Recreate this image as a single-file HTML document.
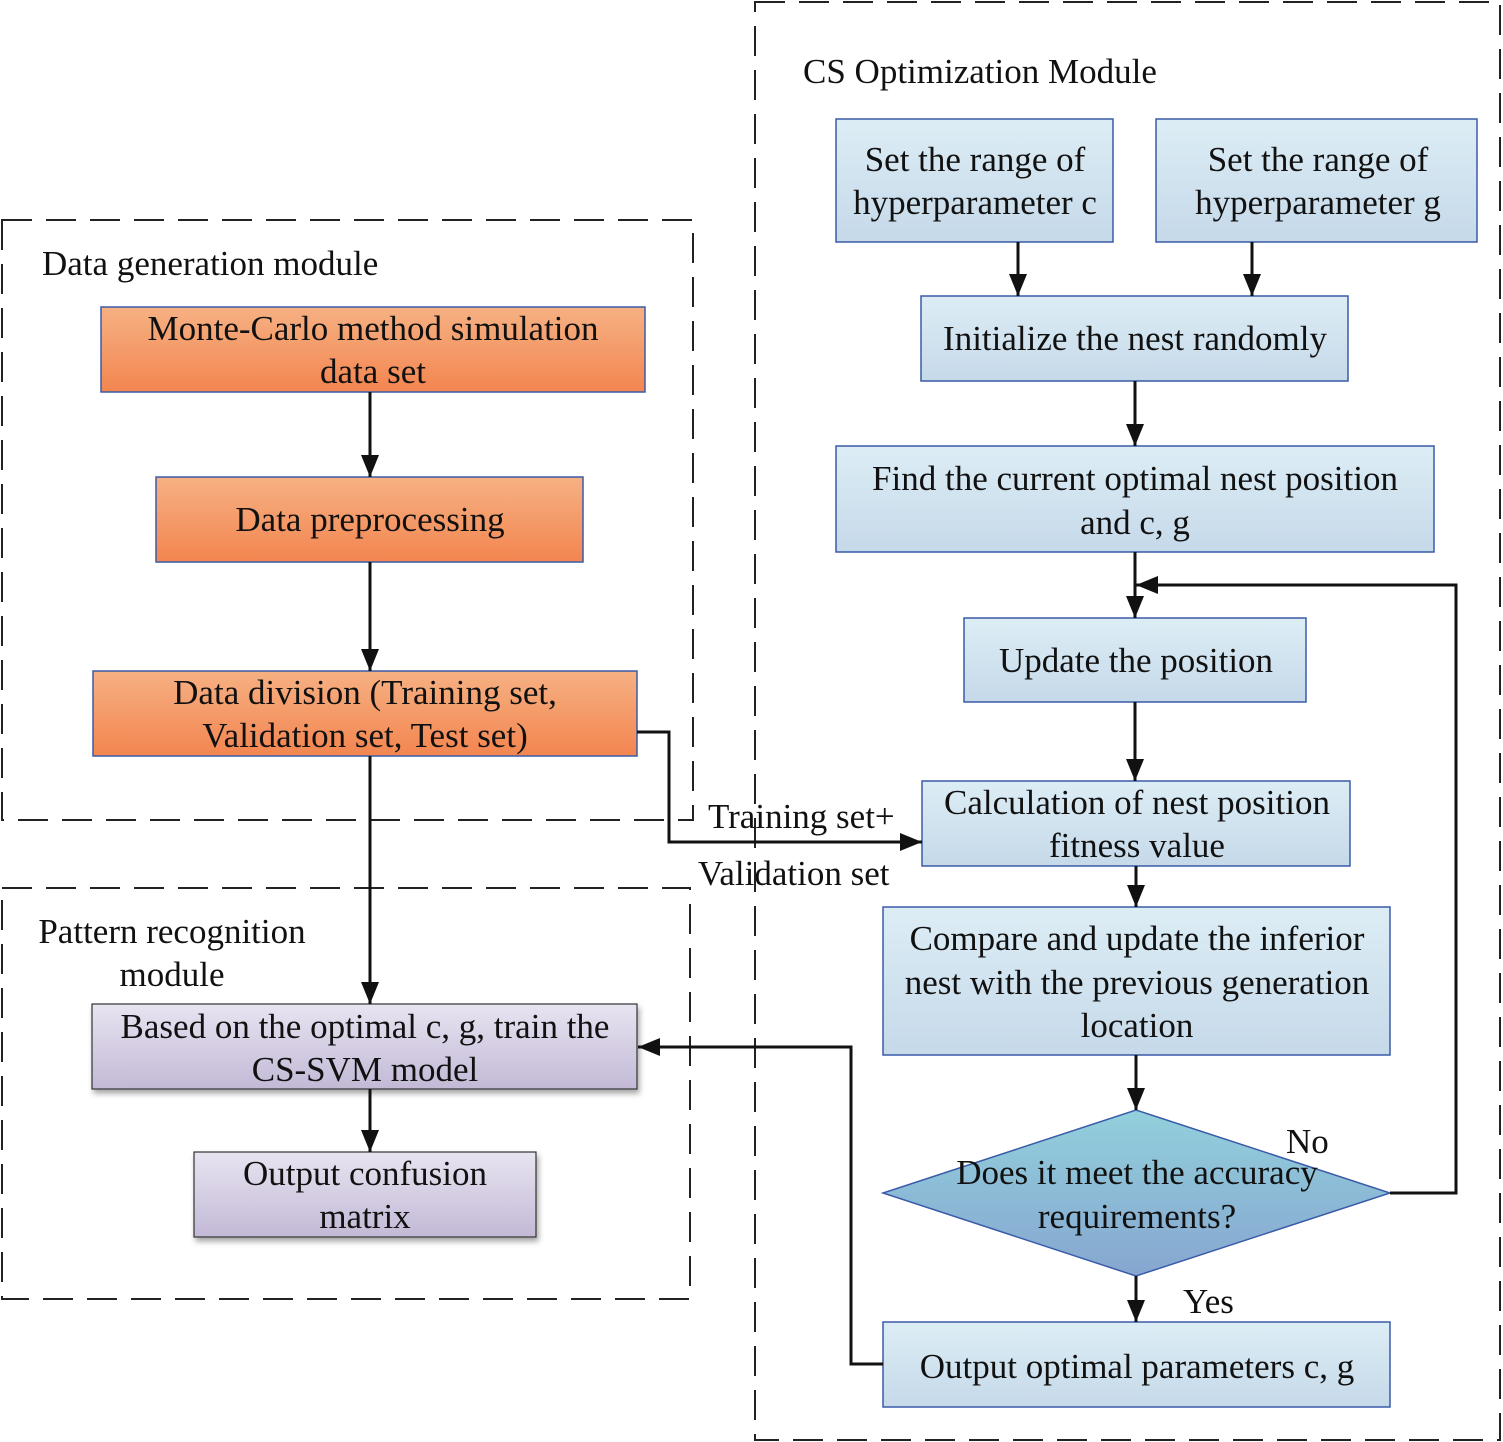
<!DOCTYPE html>
<html><head><meta charset="utf-8"><style>html,body{margin:0;padding:0;background:#fff}svg{display:block}</style></head><body>
<svg width="1503" height="1442" viewBox="0 0 1503 1442" xmlns="http://www.w3.org/2000/svg" font-family="Liberation Serif, serif" font-size="35" fill="#111">
<defs>
<linearGradient id="bl" x1="0" y1="0" x2="0" y2="1"><stop offset="0" stop-color="#dcedf5"/><stop offset="1" stop-color="#c6d9e9"/></linearGradient>
<linearGradient id="or" x1="0" y1="0" x2="0" y2="1"><stop offset="0" stop-color="#f6b183"/><stop offset="1" stop-color="#f38550"/></linearGradient>
<linearGradient id="pu" x1="0" y1="0" x2="0" y2="1"><stop offset="0" stop-color="#e8e4f1"/><stop offset="1" stop-color="#c3b9d6"/></linearGradient>
<linearGradient id="di" x1="0" y1="0" x2="0" y2="1"><stop offset="0" stop-color="#92d0dc"/><stop offset="1" stop-color="#86a6d0"/></linearGradient>
<marker id="ar" markerWidth="22" markerHeight="18" refX="22" refY="9" orient="auto" markerUnits="userSpaceOnUse" viewBox="0 0 22 18"><path d="M0,0 L22,9 L0,18 z" fill="#111"/></marker>
<filter id="sh" x="-5%" y="-10%" width="110%" height="130%"><feDropShadow dx="2" dy="4" stdDeviation="3" flood-color="#000" flood-opacity="0.35"/></filter>
</defs>
<g fill="none" stroke="#222" stroke-width="2" stroke-dasharray="30,14">
<rect x="755" y="2" width="745" height="1438"/>
<rect x="2" y="220" width="691" height="600"/>
<rect x="2" y="888" width="688" height="411"/>
</g>
<g stroke="#3a5ba8" stroke-width="1.5">
<rect x="836" y="119" width="277" height="123" fill="url(#bl)"/>
<rect x="1156" y="119" width="321" height="123" fill="url(#bl)"/>
<rect x="921" y="296" width="427" height="85" fill="url(#bl)"/>
<rect x="836" y="446" width="598" height="106" fill="url(#bl)"/>
<rect x="964" y="618" width="342" height="84" fill="url(#bl)"/>
<rect x="922" y="781" width="428" height="85" fill="url(#bl)"/>
<rect x="883" y="907" width="507" height="148" fill="url(#bl)"/>
<polygon points="1136,1110 1390,1193 1136,1276 883,1193" fill="url(#di)"/>
<rect x="883" y="1322" width="507" height="85" fill="url(#bl)"/>
<rect x="101" y="307" width="544" height="85" fill="url(#or)"/>
<rect x="156" y="477" width="427" height="85" fill="url(#or)"/>
<rect x="93" y="671" width="544" height="85" fill="url(#or)"/>
</g>
<g stroke="#333" stroke-width="1.2" filter="url(#sh)">
<rect x="92" y="1004" width="545" height="85" fill="url(#pu)"/>
<rect x="194" y="1152" width="342" height="85" fill="url(#pu)"/>
</g>
<g fill="none" stroke="#111" stroke-width="3" marker-end="url(#ar)">
<line x1="1018" y1="242" x2="1018" y2="296"/>
<line x1="1252" y1="242" x2="1252" y2="296"/>
<line x1="1135" y1="381" x2="1135" y2="446"/>
<line x1="1135" y1="552" x2="1135" y2="618"/>
<polyline points="1390,1193 1456,1193 1456,585 1136,585"/>
<line x1="1135" y1="702" x2="1135" y2="781"/>
<line x1="1136" y1="866" x2="1136" y2="907"/>
<line x1="1136" y1="1055" x2="1136" y2="1110"/>
<line x1="1136" y1="1276" x2="1136" y2="1322"/>
<polyline points="883,1364 851,1364 851,1047 638,1047"/>
<line x1="370" y1="392" x2="370" y2="477"/>
<line x1="370" y1="562" x2="370" y2="671"/>
<line x1="370" y1="756" x2="370" y2="1004"/>
<line x1="370" y1="1089" x2="370" y2="1152"/>
<polyline points="637,732 669,732 669,842 922,842"/>
</g>
<g text-anchor="middle">
<text x="975" y="171">Set the range of</text><text x="975" y="214">hyperparameter c</text>
<text x="1318" y="171">Set the range of</text><text x="1318" y="214">hyperparameter g</text>
<text x="1135" y="350">Initialize the nest randomly</text>
<text x="1135" y="490">Find the current optimal nest position</text><text x="1135" y="534">and c, g</text>
<text x="1136" y="672">Update the position</text>
<text x="1137" y="814">Calculation of nest position</text><text x="1137" y="857">fitness value</text>
<text x="1137" y="950">Compare and update the inferior</text><text x="1137" y="994">nest with the previous generation</text><text x="1137" y="1037">location</text>
<text x="1137" y="1184">Does it meet the accuracy</text><text x="1137" y="1228">requirements?</text>
<text x="1137" y="1378">Output optimal parameters c, g</text>
<text x="373" y="340">Monte-Carlo method simulation</text><text x="373" y="383">data set</text>
<text x="370" y="531">Data preprocessing</text>
<text x="365" y="704">Data division (Training set,</text><text x="365" y="747">Validation set, Test set)</text>
<text x="365" y="1038">Based on the optimal c, g, train the</text><text x="365" y="1081">CS-SVM model</text>
<text x="365" y="1185">Output confusion</text><text x="365" y="1228">matrix</text>
<text x="172" y="943">Pattern recognition</text><text x="172" y="986">module</text>
</g>
<text x="803" y="83">CS Optimization Module</text>
<text x="42" y="275">Data generation module</text>
<text x="708" y="828">Training set+</text>
<text x="698" y="885">Validation set</text>
<text x="1286" y="1153">No</text>
<text x="1183" y="1313">Yes</text>
</svg>
</body></html>
